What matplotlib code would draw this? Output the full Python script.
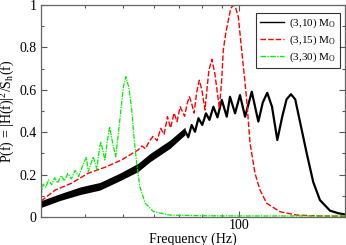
import matplotlib
matplotlib.use("Agg")
import matplotlib.pyplot as plt
from matplotlib.ticker import FixedLocator, NullFormatter, FixedFormatter, MultipleLocator

# ---- data ----
# (3,10) Msun: fast-oscillation band (lower / upper envelope)
black_band_f = [30.7, 34.4, 38.8, 43.6, 49.2, 54.7, 58.8, 66.2, 72.4]
black_band_lo = [0.045, 0.078, 0.106, 0.127, 0.172, 0.214, 0.261, 0.324, 0.388]
black_band_hi = [0.077, 0.110, 0.142, 0.163, 0.208, 0.253, 0.300, 0.363, 0.424]
# (3,10) Msun: resolved part
black_f = [30.7, 34.4, 38.8, 43.6, 49.2, 54.7, 58.8, 66.2, 72.4, 73.8, 75.3, 76.8, 78.4, 80.2,
           82.0, 83.7, 85.7, 87.8, 90.1, 92.8, 94.6, 97.5, 100.4, 103.5, 107.7, 112.0,
           115.0, 118.1, 121.5, 125.4, 129.0, 132.5, 136.0, 139.5, 143.5, 149.4, 155.3,
           161.6, 171.6, 180.0, 187.6]
black_v = [0.061, 0.094, 0.124, 0.145, 0.190, 0.233, 0.280, 0.343, 0.406, 0.376, 0.434, 0.402,
           0.466, 0.434, 0.489, 0.458, 0.520, 0.470, 0.552, 0.473, 0.567, 0.489, 0.575,
           0.473, 0.591, 0.450, 0.540, 0.586, 0.520, 0.363, 0.470, 0.555, 0.579, 0.555,
           0.450, 0.300, 0.165, 0.080, 0.030, 0.018, 0.012]

# (3,15) Msun
red_f = [30.7, 33.4, 36.8, 40.6, 45.0, 49.6, 54.7, 56.0, 57.2, 58.4, 59.8, 61.3, 62.6, 63.9,
         65.2, 66.4, 67.8, 69.0, 70.3, 72.2, 73.3, 74.3, 75.3, 76.4, 77.6, 78.8, 80.0,
         81.5, 83.4, 84.9, 86.4, 88.8, 90.0, 90.9, 92.3, 93.7, 95.1, 96.5, 97.9, 99.4,
         101.4, 103.0, 104.5, 106.6, 109.8, 113.1, 117.7, 127.4, 140.7, 160.0, 187.6]
red_v = [0.075, 0.127, 0.159, 0.206, 0.235, 0.269, 0.316, 0.335, 0.322, 0.355, 0.380, 0.360,
         0.418, 0.390, 0.473, 0.420, 0.490, 0.450, 0.520, 0.475, 0.535, 0.567, 0.535,
         0.490, 0.590, 0.645, 0.600, 0.505, 0.690, 0.744, 0.680, 0.513, 0.640, 0.788,
         0.870, 0.930, 0.985, 1.000, 0.985, 0.945, 0.788, 0.670, 0.552, 0.348, 0.206,
         0.127, 0.065, 0.025, 0.009, 0.005, 0.004]

# (3,30) Msun
green_f = [30.7, 31.1, 31.6, 32.1, 32.7, 33.3, 33.9, 34.6, 35.3, 36.0, 36.8, 37.6, 38.4,
           39.3, 40.2, 40.7, 41.3, 41.9, 42.8, 43.3, 43.8, 44.3, 44.9, 45.6, 46.2, 46.9,
           47.9, 49.2, 50.1, 50.9, 51.8, 52.7, 53.2, 53.7, 54.3, 55.3, 57.1, 60.0, 66.2,
           80.0, 100.0, 140.0, 187.6]
green_v = [0.100, 0.155, 0.140, 0.175, 0.152, 0.185, 0.160, 0.195, 0.170, 0.205, 0.180,
           0.220, 0.190, 0.240, 0.281, 0.214, 0.250, 0.284, 0.225, 0.300, 0.355, 0.320,
           0.269, 0.360, 0.426, 0.360, 0.284, 0.473, 0.610, 0.662, 0.610, 0.505, 0.410,
           0.332, 0.253, 0.143, 0.065, 0.025, 0.009, 0.006, 0.005, 0.005, 0.005]

labels = [r"(3,10) M$_\mathrm{O}$", r"(3,15) M$_\mathrm{O}$", r"(3,30) M$_\mathrm{O}$"]
yticks = [0, 0.2, 0.4, 0.6, 0.8, 1.0]
yticklabels = ["0", "0.2", "0.4", "0.6", "0.8", "1"]

plt.rcParams["font.family"] = ["Liberation Serif", "DejaVu Serif"]
plt.rcParams["mathtext.fontset"] = "custom"
plt.rcParams["mathtext.rm"] = "Liberation Serif"
plt.rcParams["mathtext.it"] = "Liberation Serif:italic"

fig = plt.figure(figsize=(3.46, 2.45), dpi=100)
ax = fig.add_axes([0.1185, 0.1143, 0.8785, 0.8653])

ax.fill_between(black_band_f, black_band_lo, black_band_hi, color="black", lw=0)
ax.plot(black_f, black_v, color="black", lw=1.6, label=labels[0])
ax.plot(red_f, red_v, color="#ff0000", lw=1.0, dashes=(4, 1.5), label=labels[1])
ax.plot(green_f, green_v, color="#00ee00", lw=0.9, dashes=(4, 1, 1, 1), label=labels[2])

ax.set_xscale("log")
ax.set_xlim(30.7, 187.6)
ax.set_ylim(0, 1)
ax.xaxis.set_major_locator(FixedLocator([100]))
ax.xaxis.set_major_formatter(FixedFormatter(["100"]))
ax.xaxis.set_minor_locator(FixedLocator([40, 50, 60, 70, 80, 90]))
ax.xaxis.set_minor_formatter(NullFormatter())
ax.set_yticks(yticks)
ax.set_yticklabels(yticklabels)
ax.yaxis.set_minor_locator(MultipleLocator(0.1))

ax.tick_params(which="both", direction="in", top=True, right=True, labelsize=10,
               color="#555555", width=0.8)
ax.tick_params(which="major", length=4)
ax.tick_params(which="minor", length=2.5)
ax.tick_params(axis="x", which="major", pad=1.5)
ax.tick_params(axis="y", which="major", pad=3)
for s in ax.spines.values():
    s.set_color("#666666")
    s.set_linewidth(0.9)

ax.set_xlabel("Frequency (Hz)", fontsize=10, labelpad=0)
ax.set_ylabel(r"P(f) = |H(f)|$^2$/S$_\mathrm{h}$(f)", fontsize=10, labelpad=2)

leg = ax.legend(loc="upper right", bbox_to_anchor=(0.984, 0.964), fontsize=8,
                frameon=True, fancybox=False, handlelength=2.1, handletextpad=0.5,
                borderpad=0.35, labelspacing=0.3, borderaxespad=0.0)
leg.get_frame().set_edgecolor("black")
leg.get_frame().set_linewidth(0.8)
for h in leg.get_lines():
    h.set_linewidth(1.0)

fig.savefig("out.png", dpi=100)
